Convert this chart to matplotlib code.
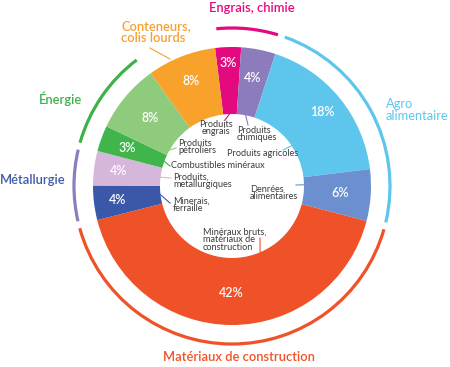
import numpy as np
import matplotlib
matplotlib.use("Agg")
import matplotlib.pyplot as plt
from matplotlib.patches import Arc

plt.rcParams['font.family'] = ['Lato', 'DejaVu Sans']

# donut slices, clockwise from the top
values = [3, 4, 18, 6, 42, 4, 4, 3, 8, 8]
pct_labels = ["3%", "4%", "18%", "6%", "42%", "4%", "4%", "3%", "8%", "8%"]
colors = ["#e5097f", "#8c7bbd", "#5ec6ec", "#6b8fcf", "#ef5128",
          "#3b58a8", "#d6b6da", "#3fb54b", "#8fcb7c", "#f8a22b"]
inner_labels = ["Produits\nengrais", "Produits\nchimiques", "Produits agricoles",
                "Denrées\nalimentaires", "Minéraux bruts,\nmatériaux de\nconstruction",
                "Minerais,\nferraille", "Produits,\nmetallurgiques",
                "Combustibles minéraux", "Produits\npétroliers", None]
groups = ["Engrais, chimie", "Engrais, chimie", "Agro\nalimentaire", "Agro\nalimentaire",
          "Matériaux de construction", "Métallurgie", "Métallurgie",
          "Énergie", "Énergie", "Conteneurs,\ncolis lourds"]

group_color = {"Engrais, chimie": "#e5097f", "Agro\nalimentaire": "#5ec6ec",
               "Matériaux de construction": "#ef5128", "Métallurgie": "#3e5aa8",
               "Énergie": "#3fb14b", "Conteneurs,\ncolis lourds": "#f7a030"}
arc_color = {"Engrais, chimie": "#e5097f", "Agro\nalimentaire": "#5ec6ec",
             "Matériaux de construction": "#ef5128", "Métallurgie": "#8a7fbe",
             "Énergie": "#3fb14b"}

H = 367
def Y(y):
    return H - y

cx, cy = 232, Y(186)
R_out, R_in, R_arc = 139, 72, 158

fig = plt.figure(figsize=(4.5, 3.67), dpi=100)
ax = fig.add_axes([0, 0, 1, 1])

wedges, _ = ax.pie(values, colors=colors, startangle=97, counterclock=False,
                   radius=R_out, center=(cx, cy),
                   wedgeprops=dict(width=R_out - R_in, linewidth=0))

def pt(r, ang):
    a = np.deg2rad(ang)
    return cx + r * np.cos(a), cy + r * np.sin(a)

# percentage labels
pct_r = [123, 110, 117, 108, 107, 115, 114, 112, 107, 113]
for w, lab, r in zip(wedges, pct_labels, pct_r):
    mid = (w.theta1 + w.theta2) / 2
    x, y = pt(r, mid)
    ax.text(x, y, lab, color="white", fontsize=9, ha="center", va="center",
            fontweight="semibold")

# inner labels with leader lines
inner_pos = [(216, 128, "center"), (237, 134, "left"), (227, 153, "left"),
             (250, 193, "left"), (203, 240, "left"), (173, 205, "left"),
             (173, 181, "left"), (171, 166, "left"), (178, 147, "left"), None]
lead_ang = [92, 79, 34, 1, -67, -173, 173, 160, 150, None]
lead_end = [(225, 120), (248, 125), (283, 150), (296, 185), (260, 238),
            (170, 203), (171, 178), (170, 166), (176, 148), None]
for i, lab in enumerate(inner_labels):
    if lab is None:
        continue
    x, y, ha = inner_pos[i]
    ax.text(x, Y(y), lab, fontsize=6.6, color="#3a3a3a", ha=ha, va="center",
            linespacing=0.8)
    sx, sy = pt(R_in, lead_ang[i])
    ex, ey = lead_end[i]
    ax.plot([sx, ex], [sy, Y(ey)], color=colors[i], lw=0.8)

# outer arcs per group
for g, c in arc_color.items():
    ws = [w for w, gg in zip(wedges, groups) if gg == g]
    lo = min(w.theta1 for w in ws)
    hi = max(w.theta2 for w in ws)
    ax.add_patch(Arc((cx, cy), 2 * R_arc, 2 * R_arc, theta1=lo + 1.3,
                     theta2=hi - 1.3, color=c, lw=2.3))

# orange leader for containers
ax.plot([150, 170], [Y(48), Y(59)], color="#f7a030", lw=0.8)

# group labels
group_pos = {"Engrais, chimie": (252, 8, "center", "semibold", 9.3),
             "Conteneurs,\ncolis lourds": (121, 32, "left", "semibold", 9.3),
             "Énergie": (61, 99, "center", "semibold", 9.3),
             "Métallurgie": (0, 180, "left", "semibold", 9.3),
             "Agro\nalimentaire": (386, 110, "left", "normal", 9.3),
             "Matériaux de construction": (239, 357, "center", "semibold", 9.3)}
for g, (x, y, ha, wt, fs) in group_pos.items():
    ax.text(x, Y(y), g, color=group_color[g], fontsize=fs, ha=ha, va="center",
            fontweight=wt, linespacing=0.95)

ax.set_xlim(0, 450)
ax.set_ylim(0, H)
ax.set_aspect("equal")
ax.axis("off")

fig.savefig("out.png", dpi=100)
